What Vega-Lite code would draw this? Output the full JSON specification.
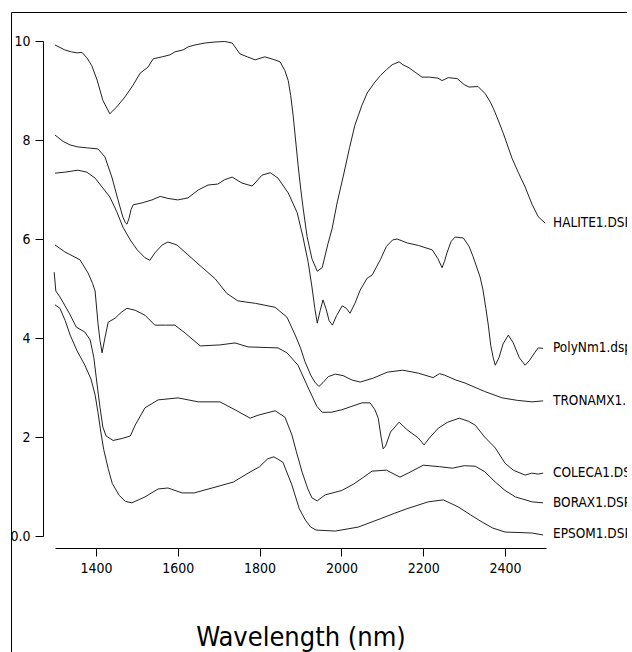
{
  "$schema": "https://vega.github.io/schema/vega-lite/v6.json",
  "width": 616,
  "height": 660,
  "autosize": {"type": "none"},
  "padding": {"left": 11, "top": 12, "right": 0, "bottom": 0},
  "background": "white",
  "config": {
    "view": {"stroke": "#000", "strokeWidth": 1, "fill": "white"},
    "font": "DejaVu Sans Condensed, sans-serif"
  },
  "datasets": {
    "spectra": [
      {"s":"HALITE","w":1300,"v":9.92},{"s":"HALITE","w":1324,"v":9.82},{"s":"HALITE","w":1340,"v":9.78},{"s":"HALITE","w":1354,"v":9.76},{"s":"HALITE","w":1366,"v":9.77},{"s":"HALITE","w":1378,"v":9.66},{"s":"HALITE","w":1390,"v":9.5},{"s":"HALITE","w":1403,"v":9.21},{"s":"HALITE","w":1417,"v":8.8},{"s":"HALITE","w":1434,"v":8.53},{"s":"HALITE","w":1451,"v":8.67},{"s":"HALITE","w":1471,"v":8.87},{"s":"HALITE","w":1491,"v":9.11},{"s":"HALITE","w":1508,"v":9.35},{"s":"HALITE","w":1527,"v":9.47},{"s":"HALITE","w":1540,"v":9.64},{"s":"HALITE","w":1562,"v":9.68},{"s":"HALITE","w":1581,"v":9.72},{"s":"HALITE","w":1593,"v":9.78},{"s":"HALITE","w":1613,"v":9.82},{"s":"HALITE","w":1625,"v":9.88},{"s":"HALITE","w":1642,"v":9.92},{"s":"HALITE","w":1667,"v":9.96},{"s":"HALITE","w":1691,"v":9.98},{"s":"HALITE","w":1715,"v":9.99},{"s":"HALITE","w":1733,"v":9.96},{"s":"HALITE","w":1752,"v":9.74},{"s":"HALITE","w":1770,"v":9.68},{"s":"HALITE","w":1789,"v":9.62},{"s":"HALITE","w":1813,"v":9.68},{"s":"HALITE","w":1833,"v":9.63},{"s":"HALITE","w":1850,"v":9.58},{"s":"HALITE","w":1862,"v":9.4},{"s":"HALITE","w":1870,"v":9.2},{"s":"HALITE","w":1876,"v":8.9},{"s":"HALITE","w":1882,"v":8.5},{"s":"HALITE","w":1888,"v":8.0},{"s":"HALITE","w":1894,"v":7.5},{"s":"HALITE","w":1900,"v":7.05},{"s":"HALITE","w":1906,"v":6.65},{"s":"HALITE","w":1916,"v":6.05},{"s":"HALITE","w":1928,"v":5.6},{"s":"HALITE","w":1941,"v":5.35},{"s":"HALITE","w":1953,"v":5.42},{"s":"HALITE","w":1967,"v":5.9},{"s":"HALITE","w":1977,"v":6.2},{"s":"HALITE","w":1990,"v":6.75},{"s":"HALITE","w":2004,"v":7.25},{"s":"HALITE","w":2020,"v":7.85},{"s":"HALITE","w":2033,"v":8.3},{"s":"HALITE","w":2050,"v":8.7},{"s":"HALITE","w":2063,"v":8.95},{"s":"HALITE","w":2080,"v":9.15},{"s":"HALITE","w":2095,"v":9.3},{"s":"HALITE","w":2110,"v":9.42},{"s":"HALITE","w":2124,"v":9.52},{"s":"HALITE","w":2141,"v":9.58},{"s":"HALITE","w":2150,"v":9.52},{"s":"HALITE","w":2165,"v":9.46},{"s":"HALITE","w":2180,"v":9.37},{"s":"HALITE","w":2197,"v":9.27},{"s":"HALITE","w":2215,"v":9.27},{"s":"HALITE","w":2236,"v":9.25},{"s":"HALITE","w":2246,"v":9.2},{"s":"HALITE","w":2261,"v":9.26},{"s":"HALITE","w":2283,"v":9.24},{"s":"HALITE","w":2300,"v":9.12},{"s":"HALITE","w":2312,"v":9.07},{"s":"HALITE","w":2334,"v":9.08},{"s":"HALITE","w":2352,"v":8.93},{"s":"HALITE","w":2365,"v":8.75},{"s":"HALITE","w":2376,"v":8.55},{"s":"HALITE","w":2395,"v":8.15},{"s":"HALITE","w":2417,"v":7.63},{"s":"HALITE","w":2432,"v":7.35},{"s":"HALITE","w":2449,"v":7.05},{"s":"HALITE","w":2466,"v":6.7},{"s":"HALITE","w":2481,"v":6.45},{"s":"HALITE","w":2498,"v":6.32},

      {"s":"POLYNM","w":1300,"v":8.1},{"s":"POLYNM","w":1320,"v":7.97},{"s":"POLYNM","w":1337,"v":7.9},{"s":"POLYNM","w":1356,"v":7.86},{"s":"POLYNM","w":1380,"v":7.84},{"s":"POLYNM","w":1405,"v":7.82},{"s":"POLYNM","w":1422,"v":7.66},{"s":"POLYNM","w":1439,"v":7.25},{"s":"POLYNM","w":1454,"v":6.79},{"s":"POLYNM","w":1466,"v":6.44},{"s":"POLYNM","w":1472,"v":6.33},{"s":"POLYNM","w":1476,"v":6.3},{"s":"POLYNM","w":1481,"v":6.42},{"s":"POLYNM","w":1486,"v":6.6},{"s":"POLYNM","w":1491,"v":6.69},{"s":"POLYNM","w":1513,"v":6.73},{"s":"POLYNM","w":1537,"v":6.79},{"s":"POLYNM","w":1557,"v":6.86},{"s":"POLYNM","w":1576,"v":6.82},{"s":"POLYNM","w":1600,"v":6.79},{"s":"POLYNM","w":1625,"v":6.83},{"s":"POLYNM","w":1650,"v":6.99},{"s":"POLYNM","w":1674,"v":7.09},{"s":"POLYNM","w":1698,"v":7.11},{"s":"POLYNM","w":1715,"v":7.2},{"s":"POLYNM","w":1733,"v":7.25},{"s":"POLYNM","w":1757,"v":7.13},{"s":"POLYNM","w":1782,"v":7.07},{"s":"POLYNM","w":1806,"v":7.29},{"s":"POLYNM","w":1826,"v":7.34},{"s":"POLYNM","w":1845,"v":7.23},{"s":"POLYNM","w":1870,"v":6.93},{"s":"POLYNM","w":1892,"v":6.53},{"s":"POLYNM","w":1906,"v":6.04},{"s":"POLYNM","w":1919,"v":5.52},{"s":"POLYNM","w":1928,"v":5.03},{"s":"POLYNM","w":1935,"v":4.6},{"s":"POLYNM","w":1941,"v":4.3},{"s":"POLYNM","w":1948,"v":4.55},{"s":"POLYNM","w":1955,"v":4.77},{"s":"POLYNM","w":1962,"v":4.6},{"s":"POLYNM","w":1970,"v":4.35},{"s":"POLYNM","w":1978,"v":4.26},{"s":"POLYNM","w":1988,"v":4.45},{"s":"POLYNM","w":2002,"v":4.65},{"s":"POLYNM","w":2012,"v":4.6},{"s":"POLYNM","w":2021,"v":4.5},{"s":"POLYNM","w":2033,"v":4.7},{"s":"POLYNM","w":2046,"v":4.97},{"s":"POLYNM","w":2063,"v":5.21},{"s":"POLYNM","w":2075,"v":5.27},{"s":"POLYNM","w":2095,"v":5.58},{"s":"POLYNM","w":2110,"v":5.85},{"s":"POLYNM","w":2125,"v":5.98},{"s":"POLYNM","w":2136,"v":6.0},{"s":"POLYNM","w":2161,"v":5.92},{"s":"POLYNM","w":2188,"v":5.87},{"s":"POLYNM","w":2222,"v":5.78},{"s":"POLYNM","w":2236,"v":5.6},{"s":"POLYNM","w":2246,"v":5.42},{"s":"POLYNM","w":2252,"v":5.55},{"s":"POLYNM","w":2258,"v":5.72},{"s":"POLYNM","w":2268,"v":5.95},{"s":"POLYNM","w":2278,"v":6.04},{"s":"POLYNM","w":2298,"v":6.02},{"s":"POLYNM","w":2312,"v":5.85},{"s":"POLYNM","w":2322,"v":5.64},{"s":"POLYNM","w":2339,"v":5.23},{"s":"POLYNM","w":2346,"v":4.97},{"s":"POLYNM","w":2353,"v":4.6},{"s":"POLYNM","w":2359,"v":4.26},{"s":"POLYNM","w":2365,"v":3.85},{"s":"POLYNM","w":2371,"v":3.6},{"s":"POLYNM","w":2376,"v":3.45},{"s":"POLYNM","w":2385,"v":3.6},{"s":"POLYNM","w":2395,"v":3.88},{"s":"POLYNM","w":2408,"v":4.06},{"s":"POLYNM","w":2420,"v":3.9},{"s":"POLYNM","w":2435,"v":3.6},{"s":"POLYNM","w":2449,"v":3.45},{"s":"POLYNM","w":2460,"v":3.55},{"s":"POLYNM","w":2472,"v":3.7},{"s":"POLYNM","w":2481,"v":3.8},{"s":"POLYNM","w":2493,"v":3.79},

      {"s":"TRONAMX","w":1300,"v":7.33},{"s":"TRONAMX","w":1324,"v":7.35},{"s":"TRONAMX","w":1356,"v":7.39},{"s":"TRONAMX","w":1378,"v":7.35},{"s":"TRONAMX","w":1398,"v":7.23},{"s":"TRONAMX","w":1417,"v":7.03},{"s":"TRONAMX","w":1434,"v":6.85},{"s":"TRONAMX","w":1451,"v":6.55},{"s":"TRONAMX","w":1466,"v":6.24},{"s":"TRONAMX","w":1484,"v":5.98},{"s":"TRONAMX","w":1501,"v":5.78},{"s":"TRONAMX","w":1520,"v":5.62},{"s":"TRONAMX","w":1532,"v":5.57},{"s":"TRONAMX","w":1544,"v":5.72},{"s":"TRONAMX","w":1562,"v":5.88},{"s":"TRONAMX","w":1576,"v":5.94},{"s":"TRONAMX","w":1598,"v":5.88},{"s":"TRONAMX","w":1625,"v":5.68},{"s":"TRONAMX","w":1659,"v":5.43},{"s":"TRONAMX","w":1691,"v":5.2},{"s":"TRONAMX","w":1720,"v":4.9},{"s":"TRONAMX","w":1747,"v":4.75},{"s":"TRONAMX","w":1790,"v":4.7},{"s":"TRONAMX","w":1838,"v":4.62},{"s":"TRONAMX","w":1867,"v":4.42},{"s":"TRONAMX","w":1887,"v":4.06},{"s":"TRONAMX","w":1900,"v":3.8},{"s":"TRONAMX","w":1911,"v":3.52},{"s":"TRONAMX","w":1925,"v":3.25},{"s":"TRONAMX","w":1935,"v":3.11},{"s":"TRONAMX","w":1945,"v":3.02},{"s":"TRONAMX","w":1955,"v":3.1},{"s":"TRONAMX","w":1968,"v":3.22},{"s":"TRONAMX","w":1985,"v":3.27},{"s":"TRONAMX","w":2004,"v":3.24},{"s":"TRONAMX","w":2026,"v":3.15},{"s":"TRONAMX","w":2046,"v":3.11},{"s":"TRONAMX","w":2078,"v":3.19},{"s":"TRONAMX","w":2112,"v":3.31},{"s":"TRONAMX","w":2150,"v":3.35},{"s":"TRONAMX","w":2188,"v":3.29},{"s":"TRONAMX","w":2224,"v":3.2},{"s":"TRONAMX","w":2240,"v":3.28},{"s":"TRONAMX","w":2252,"v":3.25},{"s":"TRONAMX","w":2280,"v":3.15},{"s":"TRONAMX","w":2302,"v":3.09},{"s":"TRONAMX","w":2350,"v":2.92},{"s":"TRONAMX","w":2393,"v":2.79},{"s":"TRONAMX","w":2430,"v":2.74},{"s":"TRONAMX","w":2466,"v":2.71},{"s":"TRONAMX","w":2493,"v":2.73},

      {"s":"COLECA","w":1300,"v":5.88},{"s":"COLECA","w":1324,"v":5.74},{"s":"COLECA","w":1361,"v":5.58},{"s":"COLECA","w":1381,"v":5.31},{"s":"COLECA","w":1392,"v":5.1},{"s":"COLECA","w":1398,"v":4.95},{"s":"COLECA","w":1405,"v":4.3},{"s":"COLECA","w":1410,"v":3.95},{"s":"COLECA","w":1415,"v":3.7},{"s":"COLECA","w":1422,"v":4.0},{"s":"COLECA","w":1430,"v":4.32},{"s":"COLECA","w":1447,"v":4.4},{"s":"COLECA","w":1462,"v":4.52},{"s":"COLECA","w":1476,"v":4.6},{"s":"COLECA","w":1496,"v":4.56},{"s":"COLECA","w":1520,"v":4.46},{"s":"COLECA","w":1544,"v":4.26},{"s":"COLECA","w":1570,"v":4.26},{"s":"COLECA","w":1593,"v":4.26},{"s":"COLECA","w":1618,"v":4.1},{"s":"COLECA","w":1655,"v":3.84},{"s":"COLECA","w":1703,"v":3.86},{"s":"COLECA","w":1740,"v":3.9},{"s":"COLECA","w":1772,"v":3.82},{"s":"COLECA","w":1845,"v":3.8},{"s":"COLECA","w":1867,"v":3.7},{"s":"COLECA","w":1894,"v":3.45},{"s":"COLECA","w":1919,"v":2.99},{"s":"COLECA","w":1940,"v":2.62},{"s":"COLECA","w":1953,"v":2.5},{"s":"COLECA","w":1975,"v":2.5},{"s":"COLECA","w":2001,"v":2.55},{"s":"COLECA","w":2050,"v":2.69},{"s":"COLECA","w":2070,"v":2.69},{"s":"COLECA","w":2082,"v":2.55},{"s":"COLECA","w":2090,"v":2.38},{"s":"COLECA","w":2097,"v":2.0},{"s":"COLECA","w":2102,"v":1.76},{"s":"COLECA","w":2108,"v":1.82},{"s":"COLECA","w":2120,"v":2.1},{"s":"COLECA","w":2141,"v":2.3},{"s":"COLECA","w":2160,"v":2.15},{"s":"COLECA","w":2188,"v":1.98},{"s":"COLECA","w":2202,"v":1.84},{"s":"COLECA","w":2215,"v":1.98},{"s":"COLECA","w":2237,"v":2.18},{"s":"COLECA","w":2260,"v":2.3},{"s":"COLECA","w":2288,"v":2.38},{"s":"COLECA","w":2310,"v":2.32},{"s":"COLECA","w":2327,"v":2.24},{"s":"COLECA","w":2350,"v":2.0},{"s":"COLECA","w":2376,"v":1.78},{"s":"COLECA","w":2400,"v":1.47},{"s":"COLECA","w":2420,"v":1.33},{"s":"COLECA","w":2449,"v":1.23},{"s":"COLECA","w":2465,"v":1.27},{"s":"COLECA","w":2481,"v":1.25},{"s":"COLECA","w":2493,"v":1.27},

      {"s":"BORAX","w":1298,"v":5.33},{"s":"BORAX","w":1302,"v":4.95},{"s":"BORAX","w":1312,"v":4.83},{"s":"BORAX","w":1335,"v":4.5},{"s":"BORAX","w":1352,"v":4.22},{"s":"BORAX","w":1373,"v":4.12},{"s":"BORAX","w":1386,"v":3.96},{"s":"BORAX","w":1395,"v":3.6},{"s":"BORAX","w":1403,"v":3.05},{"s":"BORAX","w":1410,"v":2.6},{"s":"BORAX","w":1417,"v":2.2},{"s":"BORAX","w":1425,"v":2.02},{"s":"BORAX","w":1442,"v":1.93},{"s":"BORAX","w":1464,"v":1.97},{"s":"BORAX","w":1484,"v":2.02},{"s":"BORAX","w":1496,"v":2.24},{"s":"BORAX","w":1520,"v":2.59},{"s":"BORAX","w":1552,"v":2.75},{"s":"BORAX","w":1601,"v":2.79},{"s":"BORAX","w":1650,"v":2.71},{"s":"BORAX","w":1703,"v":2.71},{"s":"BORAX","w":1740,"v":2.55},{"s":"BORAX","w":1777,"v":2.38},{"s":"BORAX","w":1796,"v":2.44},{"s":"BORAX","w":1838,"v":2.53},{"s":"BORAX","w":1862,"v":2.4},{"s":"BORAX","w":1879,"v":2.04},{"s":"BORAX","w":1890,"v":1.7},{"s":"BORAX","w":1904,"v":1.29},{"s":"BORAX","w":1918,"v":0.95},{"s":"BORAX","w":1928,"v":0.77},{"s":"BORAX","w":1941,"v":0.71},{"s":"BORAX","w":1960,"v":0.83},{"s":"BORAX","w":2001,"v":0.92},{"s":"BORAX","w":2030,"v":1.05},{"s":"BORAX","w":2051,"v":1.17},{"s":"BORAX","w":2075,"v":1.31},{"s":"BORAX","w":2110,"v":1.33},{"s":"BORAX","w":2143,"v":1.19},{"s":"BORAX","w":2163,"v":1.27},{"s":"BORAX","w":2200,"v":1.43},{"s":"BORAX","w":2240,"v":1.4},{"s":"BORAX","w":2271,"v":1.37},{"s":"BORAX","w":2300,"v":1.42},{"s":"BORAX","w":2327,"v":1.41},{"s":"BORAX","w":2350,"v":1.3},{"s":"BORAX","w":2376,"v":1.09},{"s":"BORAX","w":2400,"v":0.92},{"s":"BORAX","w":2425,"v":0.79},{"s":"BORAX","w":2466,"v":0.69},{"s":"BORAX","w":2493,"v":0.67},

      {"s":"EPSOM","w":1300,"v":4.67},{"s":"EPSOM","w":1312,"v":4.6},{"s":"EPSOM","w":1325,"v":4.35},{"s":"EPSOM","w":1337,"v":4.06},{"s":"EPSOM","w":1354,"v":3.74},{"s":"EPSOM","w":1373,"v":3.45},{"s":"EPSOM","w":1388,"v":3.17},{"s":"EPSOM","w":1398,"v":2.85},{"s":"EPSOM","w":1405,"v":2.5},{"s":"EPSOM","w":1412,"v":2.1},{"s":"EPSOM","w":1419,"v":1.75},{"s":"EPSOM","w":1430,"v":1.36},{"s":"EPSOM","w":1440,"v":1.06},{"s":"EPSOM","w":1457,"v":0.82},{"s":"EPSOM","w":1472,"v":0.7},{"s":"EPSOM","w":1488,"v":0.67},{"s":"EPSOM","w":1520,"v":0.79},{"s":"EPSOM","w":1552,"v":0.95},{"s":"EPSOM","w":1576,"v":0.97},{"s":"EPSOM","w":1611,"v":0.87},{"s":"EPSOM","w":1640,"v":0.87},{"s":"EPSOM","w":1684,"v":0.97},{"s":"EPSOM","w":1736,"v":1.09},{"s":"EPSOM","w":1772,"v":1.27},{"s":"EPSOM","w":1800,"v":1.4},{"s":"EPSOM","w":1820,"v":1.56},{"s":"EPSOM","w":1835,"v":1.6},{"s":"EPSOM","w":1857,"v":1.49},{"s":"EPSOM","w":1879,"v":1.03},{"s":"EPSOM","w":1897,"v":0.55},{"s":"EPSOM","w":1912,"v":0.32},{"s":"EPSOM","w":1925,"v":0.18},{"s":"EPSOM","w":1938,"v":0.12},{"s":"EPSOM","w":1985,"v":0.1},{"s":"EPSOM","w":2041,"v":0.18},{"s":"EPSOM","w":2099,"v":0.36},{"s":"EPSOM","w":2130,"v":0.46},{"s":"EPSOM","w":2160,"v":0.55},{"s":"EPSOM","w":2212,"v":0.69},{"s":"EPSOM","w":2249,"v":0.73},{"s":"EPSOM","w":2285,"v":0.59},{"s":"EPSOM","w":2315,"v":0.43},{"s":"EPSOM","w":2344,"v":0.28},{"s":"EPSOM","w":2370,"v":0.16},{"s":"EPSOM","w":2400,"v":0.08},{"s":"EPSOM","w":2466,"v":0.06},{"s":"EPSOM","w":2493,"v":0.02}
    ],
    "labels": [
      {"label":"HALITE1.DSP","w":2500,"v":6.32},
      {"label":"PolyNm1.dsp","w":2500,"v":3.79},
      {"label":"TRONAMX1.DSP","w":2500,"v":2.73},
      {"label":"COLECA1.DSP","w":2500,"v":1.27},
      {"label":"BORAX1.DSP","w":2500,"v":0.67},
      {"label":"EPSOM1.DSP","w":2500,"v":0.05}
    ]
  },
  "layer": [
    {
      "data": {"name": "spectra"},
      "mark": {"type": "line", "color": "#222", "strokeWidth": 1, "clip": true},
      "encoding": {
        "x": {
          "field": "w", "type": "quantitative",
          "scale": {"domain": [1300, 2500], "range": [44, 535], "nice": false, "zero": false},
          "axis": {
            "values": [1400, 1600, 1800, 2000, 2200, 2400],
            "format": "d",
            "offset": -124,
            "grid": false,
            "tickSize": 8,
            "tickColor": "#000",
            "domainColor": "#000",
            "labelColor": "#000",
            "labelFontSize": 14,
            "labelPadding": 5,
            "labelFlush": false,
            "title": "Wavelength (nm)",
            "titleFontSize": 27,
            "titleFontWeight": "normal",
            "titleColor": "#000",
            "titleBaseline": "alphabetic",
            "titleY": 97
          }
        },
        "y": {
          "field": "v", "type": "quantitative",
          "scale": {"domain": [0, 10], "range": [524, 29], "nice": false, "zero": false},
          "axis": {
            "values": [0, 2, 4, 6, 8, 10],
            "format": "d",
            "labelExpr": "datum.value == 0 ? '0.0' : datum.label",
            "offset": -32,
            "grid": false,
            "tickSize": 8,
            "tickColor": "#000",
            "domainColor": "#000",
            "labelColor": "#000",
            "labelFontSize": 14,
            "labelPadding": 5,
            "labelFlush": false,
            "title": null
          }
        },
        "detail": {"field": "s"}
      }
    },
    {
      "data": {"name": "labels"},
      "mark": {"type": "text", "align": "left", "baseline": "middle", "dx": 7, "fontSize": 13.5, "color": "#000", "clip": true},
      "encoding": {
        "x": {"field": "w", "type": "quantitative"},
        "y": {"field": "v", "type": "quantitative"},
        "text": {"field": "label"}
      }
    }
  ]
}
